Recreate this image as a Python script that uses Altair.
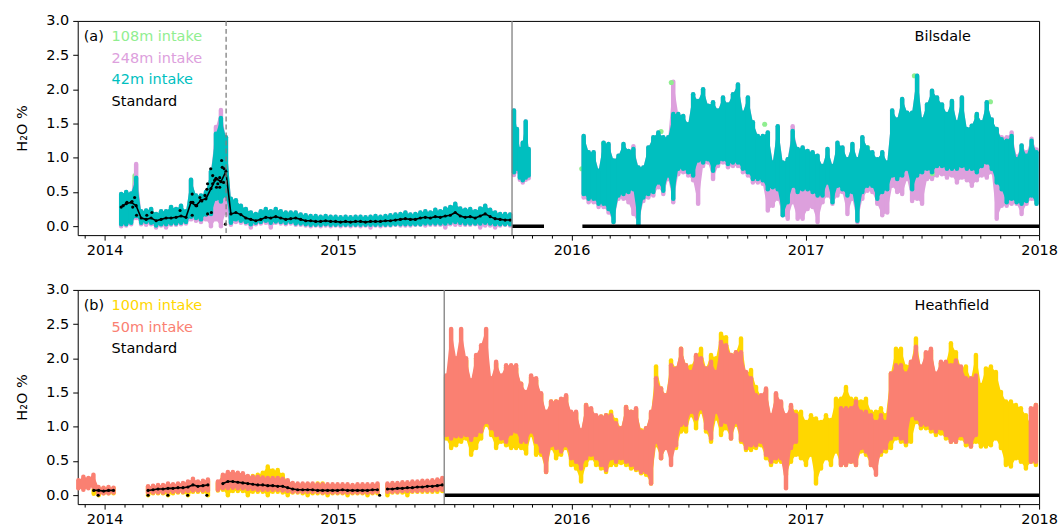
import altair as alt
import pandas as pd

FONT = "DejaVu Sans"
GREEN, PLUM, CYAN = "#90EE90", "#DDA0DD", "#00BFBF"
GOLD, SALMON = "#FFD700", "#FA8072"

# ======================= (a) Bilsdale =======================
# Jan 2014 - Sep 2015, readings every ~8 days (min / max of each window)
bil_early = ("2014-01-27", "2015-09-27")
bil42_early_hi = [0.47, 0.50, 0.48, 0.71, 0.22, 0.23, 0.25, 0.18, 0.22, 0.22, 0.28, 0.25, 0.30, 0.22,
                  0.68, 0.45, 0.45, 0.50, 0.80, 1.35, 1.58, 1.30,
                  0.40, 0.38, 0.30, 0.25, 0.20, 0.18, 0.22, 0.25, 0.22, 0.25, 0.22, 0.20, 0.20, 0.20,
                  0.17, 0.16, 0.15, 0.15, 0.14, 0.15, 0.14, 0.14, 0.13, 0.14, 0.13, 0.14, 0.14, 0.13,
                  0.14, 0.15, 0.14, 0.15, 0.16, 0.17, 0.18, 0.20, 0.17, 0.18, 0.20, 0.22, 0.20, 0.24,
                  0.22, 0.26, 0.28, 0.33, 0.26, 0.24, 0.25, 0.22, 0.26, 0.30, 0.24, 0.20, 0.18, 0.18, 0.17]
bil42_early_lo = [0.03, 0.03, 0.05, 0.15, 0.05, 0.06, 0.05, 0.01, 0.03, 0.03, 0.04, 0.04, 0.05, 0.06,
                  0.14, 0.12, 0.10, 0.17, 0.18, 0.40, 0.36, 0.45,
                  0.05, 0.10, 0.08, 0.06, 0.03, 0.05, 0.06, 0.08, 0.05, 0.07, 0.06, 0.05, 0.06, 0.04,
                  0.04, 0.03, 0.02, 0.02, 0.02, 0.03, 0.02, 0.02, 0.02, 0.02, 0.02, 0.02, 0.02, 0.02,
                  0.02, 0.02, 0.02, 0.02, 0.02, 0.03, 0.03, 0.03, 0.03, 0.03, 0.03, 0.04, 0.04, 0.04,
                  0.04, 0.04, 0.05, 0.06, 0.05, 0.04, 0.04, 0.04, 0.04, 0.05, 0.04, 0.03, 0.03, 0.03, 0.03]
bil248_early_hi = [0.47, 0.50, 0.48, 0.91, 0.22, 0.23, 0.25, 0.18, 0.22, 0.22, 0.28, 0.25, 0.30, 0.22,
                   0.68, 0.45, 0.45, 0.50, 0.80, 1.45, 1.70, 1.30,
                   0.40, 0.38, 0.30, 0.25, 0.20, 0.18, 0.22, 0.25, 0.22, 0.25, 0.22, 0.20, 0.20, 0.20,
                   0.17, 0.16, 0.15, 0.15, 0.14, 0.15, 0.14, 0.14, 0.13, 0.14, 0.13, 0.14, 0.14, 0.13,
                   0.14, 0.15, 0.14, 0.15, 0.16, 0.17, 0.18, 0.20, 0.17, 0.18, 0.20, 0.22, 0.20, 0.24,
                   0.22, 0.26, 0.28, 0.33, 0.26, 0.24, 0.25, 0.22, 0.26, 0.30, 0.24, 0.20, 0.18, 0.18, 0.17]
bil248_early_lo = [0.00, 0.01, 0.03, 0.12, 0.03, 0.02, 0.03, -0.02, 0.01, -0.02, 0.02, 0.02, 0.03, 0.04,
                   0.10, 0.08, 0.06, 0.10, 0.00, 0.10, 0.00, 0.20,
                   0.02, 0.06, 0.05, 0.04, -0.02, 0.03, 0.04, 0.05, -0.02, 0.05, 0.04, 0.03, 0.04, 0.02,
                   0.02, 0.01, 0.00, 0.01, 0.00, 0.01, 0.00, 0.01, 0.00, 0.01, 0.00, 0.01, 0.00, 0.01,
                   -0.02, 0.01, 0.00, 0.01, 0.01, 0.02, 0.01, 0.01, 0.01, 0.02, 0.02, 0.01, 0.02, 0.02,
                   0.02, -0.02, 0.03, 0.02, 0.02, 0.02, 0.02, 0.03, -0.02, 0.01, 0.01, -0.02, 0.01, 0.02, 0.01]
bil_std_early = [0.28, 0.33, 0.35, 0.30, 0.12, 0.10, 0.12, 0.08, 0.10, 0.12, 0.12, 0.13, 0.15, 0.13,
                 0.35, 0.30, 0.38, 0.40, 0.55, 0.70, 0.65, 0.80,
                 0.18, 0.20, 0.17, 0.12, 0.10, 0.08, 0.10, 0.13, 0.12, 0.14, 0.12, 0.10, 0.11, 0.12,
                 0.10, 0.08, 0.08, 0.07, 0.07, 0.08, 0.07, 0.07, 0.06, 0.07, 0.06, 0.07, 0.07, 0.06,
                 0.07, 0.07, 0.07, 0.08, 0.08, 0.09, 0.10, 0.11, 0.10, 0.10, 0.12, 0.13, 0.12, 0.14,
                 0.13, 0.15, 0.16, 0.20, 0.15, 0.13, 0.14, 0.12, 0.15, 0.18, 0.14, 0.11, 0.10, 0.09, 0.09]
# scattered standard readings during spring / summer 2014
bil_std_extra_dates = ["2014-01-30", "2014-02-05", "2014-02-13", "2014-02-14", "2014-02-17", "2014-02-20",
                       "2014-03-08", "2014-03-16", "2014-04-29", "2014-05-18", "2014-05-19", "2014-05-25",
                       "2014-05-30", "2014-06-02", "2014-06-07", "2014-06-10", "2014-06-11", "2014-06-16",
                       "2014-06-17", "2014-06-19", "2014-06-22", "2014-06-25", "2014-06-27", "2014-06-30",
                       "2014-07-03", "2014-07-04", "2014-07-06", "2014-07-07", "2014-07-09", "2014-06-11",
                       "2014-05-18", "2014-06-25", "2014-06-30", "2014-06-19"]
bil_std_extra = [0.30, 0.35, 0.36, 0.28, 0.42, 0.16, 0.16, 0.20, 0.23, 0.47, 0.35, 0.30,
                 0.42, 0.37, 0.45, 0.54, 0.62, 0.84, 0.20, 0.74, 0.67, 0.69, 0.62, 0.71,
                 0.96, 0.86, 0.64, 0.84, 0.03, 0.18, 0.16, 0.57, 0.57, 0.62]
bil108_early_dates = ["2014-02-17", "2014-07-06"]
bil108_early_lo = [0.15, 0.38]
bil108_early_hi = [0.74, 1.20]

# October 2015
bil_oct = ("2015-10-03", "2015-10-26")
bil42_oct_hi = [1.69, 1.42, 1.13, 1.22, 1.53, 1.13]
bil42_oct_lo = [0.79, 0.84, 0.71, 0.67, 0.71, 0.74]
bil248_oct_hi = [1.69, 1.42, 1.13, 1.22, 1.53, 1.13]
bil248_oct_lo = [0.75, 0.80, 0.68, 0.64, 0.68, 0.70]

# 2016 - 2017, readings every ~8 days
bil_late = ("2016-01-20", "2017-12-28")
bil42_late_hi = [1.32, 1.08, 1.08, 0.81, 1.22, 1.20, 0.96, 1.03, 1.20, 1.10, 1.13, 0.86, 0.86, 1.15,
                 1.30, 1.37, 1.30, 1.30, 1.64, 1.64, 1.61, 1.49, 1.93, 1.83, 2.00, 1.76, 1.81, 1.69,
                 1.88, 1.78, 1.93, 2.07, 1.66, 1.88, 1.52, 1.32, 1.32, 1.37, 0.93, 1.46, 0.93, 0.98,
                 1.39, 1.13, 1.15, 1.10, 1.08,
                 1.03, 0.88, 1.13, 0.88, 1.22, 1.15, 0.98, 1.20, 0.98, 1.30, 1.15, 1.08, 0.98, 1.08,
                 0.93, 1.69, 1.56, 1.86, 1.66, 1.66, 2.20, 1.56, 1.78, 1.98, 1.88, 1.78, 1.64, 1.83,
                 1.52, 1.88, 1.42, 1.47, 1.64, 1.52, 1.81, 1.56, 1.42, 1.27, 1.25, 1.32, 0.98, 1.18,
                 1.03, 1.25, 1.08]
bil42_late_lo = [0.47, 0.40, 0.40, 0.33, 0.33, 0.25, 0.06, 0.45, 0.47, 0.50, 0.54, 0.03, 0.42, 0.47,
                 0.50, 0.64, 0.52, 0.74, 0.40, 0.84, 0.84, 0.79, 0.74, 0.96, 0.93, 0.98, 0.81, 0.93,
                 0.98, 0.91, 0.93, 0.93, 0.84, 0.79, 0.69, 0.69, 0.67, 0.54, 0.57, 0.54, 0.16, 0.35,
                 0.59, 0.50, 0.54, 0.54, 0.50,
                 0.45, 0.45, 0.64, 0.35, 0.59, 0.54, 0.45, 0.50, 0.08, 0.50, 0.59, 0.59, 0.40, 0.50,
                 0.54, 0.74, 0.69, 0.74, 0.84, 0.54, 0.74, 0.79, 0.84, 0.79, 0.88, 0.88, 0.84, 0.84,
                 0.84, 0.88, 0.84, 0.84, 0.79, 0.88, 0.93, 0.84, 0.64, 0.54, 0.35, 0.40, 0.35, 0.33,
                 0.37, 0.45, 0.33]
bil248_late_hi = [1.32, 1.08, 1.08, 0.81, 1.22, 1.20, 0.96, 1.03, 1.20, 1.10, 1.17, 0.86, 0.86, 1.15,
                  1.30, 1.37, 1.30, 1.30, 2.11, 1.64, 1.61, 1.49, 1.93, 1.83, 2.00, 1.76, 1.81, 1.69,
                  1.88, 1.78, 1.93, 2.07, 1.66, 1.88, 1.52, 1.32, 1.32, 1.37, 0.93, 1.46, 0.93, 0.98,
                  1.46, 1.13, 1.15, 1.10, 1.08,
                  1.03, 0.88, 1.13, 0.88, 1.22, 1.15, 0.98, 1.20, 0.98, 1.30, 1.15, 1.08, 0.98, 1.08,
                  0.93, 1.69, 1.56, 1.86, 1.66, 1.66, 2.20, 1.56, 1.78, 1.98, 1.88, 1.78, 1.64, 1.83,
                  1.52, 1.88, 1.42, 1.47, 1.64, 1.52, 1.81, 1.56, 1.42, 1.30, 1.30, 1.37, 1.02, 1.18,
                  1.08, 1.28, 1.12]
bil248_late_lo = [0.42, 0.35, 0.35, 0.28, 0.28, 0.20, 0.06, 0.40, 0.40, 0.35, 0.18, 0.03, 0.37, 0.42,
                  0.45, 0.57, 0.47, 0.69, 0.35, 0.76, 0.79, 0.74, 0.67, 0.33, 0.88, 0.93, 0.69, 0.88,
                  0.93, 0.86, 0.88, 0.88, 0.79, 0.74, 0.64, 0.64, 0.62, 0.23, 0.30, 0.40, 0.16, 0.11,
                  0.35, 0.11, 0.11, 0.25, 0.28,
                  0.06, 0.35, 0.45, 0.33, 0.45, 0.50, 0.18, 0.40, 0.06, 0.40, 0.52, 0.50, 0.33, 0.16,
                  0.20, 0.59, 0.50, 0.47, 0.69, 0.37, 0.40, 0.33, 0.69, 0.69, 0.74, 0.76, 0.71, 0.74,
                  0.64, 0.71, 0.67, 0.59, 0.67, 0.74, 0.71, 0.79, 0.11, 0.30, 0.30, 0.33, 0.33, 0.18,
                  0.33, 0.40, 0.33]
bil108_late_dates = ["2016-01-17", "2016-02-20", "2016-03-07", "2016-05-20", "2016-06-05", "2016-10-06",
                     "2016-10-29", "2017-04-08", "2017-06-20", "2017-07-18", "2017-09-25", "2017-10-17"]
bil108_late = [0.84, 1.21, 0.31, 1.385, 2.10, 1.54, 1.49, 1.15, 2.20, 0.77, 1.60, 1.82]

# standard reads zero while it is not run
bil_std_zero_start = ["2015-09-30", "2016-01-18"]
bil_std_zero_end = ["2015-11-19", "2018-01-01"]
bil_breaks_dashed = ["2014-07-10"]
bil_breaks_solid = ["2015-09-30"]

# ======================= (b) Heathfield =======================
hea_first = ("2013-11-21", "2014-01-15")
hea50_first_hi = [0.22, 0.27, 0.25, 0.30, 0.12, 0.11, 0.12, 0.11]
hea50_first_lo = [0.10, 0.08, 0.10, 0.12, 0.02, 0.03, 0.03, 0.04]
hea_first_b = ("2013-12-15", "2014-01-15")
hea100_first_hi = [0.08, 0.10, 0.10, 0.10, 0.10]
hea100_first_lo = [0.02, 0.00, 0.03, 0.03, 0.03]
hea_std_first = [0.07, 0.07, 0.06, 0.07, 0.07]

hea_mid = ("2014-03-10", "2015-06-13")
hea50_mid_hi = [0.13, 0.14, 0.15, 0.15, 0.17, 0.16, 0.17, 0.18, 0.20, 0.24,
                0.20, 0.21, 0.23, None, 0.20, 0.30, 0.34, 0.34, 0.33, 0.32,
                0.28, 0.27, 0.27, 0.26, 0.25, 0.25, 0.25, 0.24, 0.22, 0.18,
                0.17, 0.17, 0.17, 0.17, 0.16, 0.16, 0.16, 0.16, 0.16, 0.16,
                0.16, 0.15, 0.16, 0.16, 0.16, 0.16, 0.17, None, 0.17, 0.18,
                0.18, 0.19, 0.19, 0.20, 0.20, 0.21, 0.21, 0.22, 0.23, 0.25]
hea50_mid_lo = [0.04, 0.04, 0.04, 0.04, 0.05, 0.05, 0.05, 0.05, 0.06, 0.07,
                0.07, 0.07, 0.07, None, 0.08, 0.10, 0.10, 0.11, 0.10, 0.10,
                0.09, 0.09, 0.08, 0.08, 0.08, 0.08, 0.08, 0.07, 0.06, 0.05,
                0.05, 0.05, 0.05, 0.05, 0.05, 0.04, 0.04, 0.04, 0.04, 0.04,
                0.04, 0.04, 0.04, 0.04, 0.04, 0.04, 0.05, None, 0.05, 0.05,
                0.05, 0.06, 0.06, 0.06, 0.06, 0.07, 0.07, 0.07, 0.08, 0.08]
hea100_mid_hi = [0.12, 0.12, 0.13, 0.13, 0.15, 0.14, 0.15, 0.16, 0.18, 0.20,
                 0.18, 0.19, 0.21, None, 0.18, 0.28, 0.30, 0.30, 0.30, 0.28,
                 0.27, 0.28, 0.30, 0.33, 0.42, 0.36, 0.37, 0.30, 0.20, 0.16,
                 0.15, 0.15, 0.16, 0.15, 0.17, 0.17, 0.14, 0.14, 0.14, 0.14,
                 0.14, 0.13, 0.14, 0.14, 0.14, 0.14, 0.15, None, 0.15, 0.16,
                 0.16, 0.17, 0.17, 0.18, 0.18, 0.19, 0.19, 0.20, 0.21, 0.22]
hea100_mid_lo = [0.00, 0.03, 0.03, 0.03, 0.00, 0.03, 0.04, 0.04, 0.00, 0.05,
                 0.05, 0.05, 0.00, None, 0.07, 0.08, 0.00, 0.06, 0.06, 0.06,
                 0.00, 0.05, 0.05, 0.05, 0.00, 0.05, 0.05, 0.04, 0.00, 0.04,
                 0.04, 0.03, 0.00, 0.03, 0.03, 0.03, 0.00, 0.03, 0.03, 0.03,
                 0.00, 0.03, 0.03, 0.03, 0.00, 0.03, 0.03, None, 0.00, 0.04,
                 0.04, 0.04, 0.00, 0.05, 0.05, 0.05, 0.05, 0.05, 0.05, 0.06]
hea_std_mid = [0.07, 0.08, 0.09, 0.09, 0.10, 0.10, 0.11, 0.11, 0.12, 0.15,
               0.13, 0.14, 0.15, None, None, 0.17, 0.20, 0.20, 0.19, 0.18,
               0.17, 0.16, 0.15, 0.15, 0.14, 0.14, 0.13, 0.13, 0.11, 0.09,
               0.08, 0.08, 0.08, 0.08, 0.07, 0.07, 0.07, 0.07, 0.07, 0.08,
               0.07, 0.07, 0.07, 0.07, 0.07, 0.08, 0.08, None, 0.09, 0.09,
               0.10, 0.10, 0.11, 0.11, 0.12, 0.12, 0.13, 0.13, 0.14, 0.15]
hea_std_zero_dots = ["2013-12-22", "2014-03-10", "2014-04-10", "2014-05-11", "2014-06-10", "2015-03-07"]

hea_late = ("2015-06-19", "2017-12-27")
hea50_late_hi = [1.75, 2.43, 2.00, 2.43, 2.00, 1.68, 2.05, 2.19, 2.43, 1.71, 1.95, 1.75, 1.90, 1.90,
                 1.90, 1.63, 1.51, 1.75, 1.71, 1.49, 1.22, 1.37, 1.37, 1.41, 1.46, 1.22, 1.22, 0.95,
                 1.32, 1.27, 1.17, 1.15, 1.17, 1.17, 1.05, 0.98, 1.29, 1.22, 1.27, 0.93, 0.98, 1.22,
                 1.71, 1.56, 1.46, 1.90, 1.85, 2.14, 1.90, 1.80, 2.05, 2.00, 1.85, 1.95, 1.80, 2.24,
                 2.19, 2.05, 2.09,
                 2.09, 1.80, 1.71, 1.46, 1.46, 1.56, 1.17, 1.49, 1.37, 1.17, 1.32, 1.17,
                 None, None, None, None, None, None, None, None,
                 1.27, 1.27, 1.27, 1.37, 1.22, 1.22, 1.17, 1.07, 1.17, 1.07, 1.78, 1.90, 1.90, 1.78,
                 1.95, 2.17, 1.88, 2.09, 2.14, 1.78, 1.95, 1.95, 1.90, 1.97, 1.88, 1.71, 1.71, 1.75,
                 None, None, None, None, None, None, None, None, None, None,
                 1.27, 1.32]
hea50_late_lo = [0.88, 0.83, 0.86, 0.86, 0.88, 0.81, 0.88, 0.93, 1.07, 0.98, 0.88, 0.83, 0.78, 0.90,
                 0.93, 0.78, 0.78, 0.93, 0.78, 0.64, 0.34, 0.73, 0.69, 0.64, 0.73, 0.54, 0.49, 0.39,
                 0.54, 0.59, 0.54, 0.44, 0.37, 0.54, 0.49, 0.54, 0.49, 0.44, 0.39, 0.34, 0.34, 0.17,
                 0.78, 0.54, 0.69, 0.44, 0.73, 1.03, 1.03, 1.22, 1.12, 1.27, 0.98, 0.83, 1.22, 1.03,
                 1.07, 0.83, 1.07,
                 0.81, 0.69, 0.73, 0.73, 0.78, 0.59, 0.49, 0.54, 0.54, 0.10, 0.69, 0.78,
                 None, None, None, None, None, None, None, None,
                 0.44, 0.44, 0.49, 0.44, 0.69, 0.64, 0.44, 0.30, 0.64, 0.69, 0.83, 0.88, 0.83, 0.78,
                 1.17, 1.12, 1.03, 1.03, 0.98, 0.93, 0.98, 0.88, 0.78, 0.78, 0.88, 0.78, 0.71, 0.88,
                 None, None, None, None, None, None, None, None, None, None,
                 0.49, 0.49]
hea100_late_hi = [1.72, 2.00, 1.97, 2.00, 1.97, 1.65, 2.00, 1.80, 1.90, 1.68, 1.92, 1.73, 1.87, 1.87,
                  1.85, 1.63, 1.49, 1.72, 1.68, 1.47, 1.20, 1.37, 1.37, 1.40, 1.44, 1.20, 1.20, 0.93,
                  1.32, 1.25, 1.15, 1.15, 1.17, 1.22, 1.10, 0.98, 1.29, 1.22, 1.25, 0.95, 0.98, 1.20,
                  1.88, 1.56, 1.46, 1.97, 1.85, 2.14, 1.90, 1.88, 2.03, 2.14, 1.85, 2.05, 2.00, 2.36,
                  2.31, 2.05, 2.09,
                  2.29, 1.78, 1.83, 1.58, 1.44, 1.54, 1.15, 1.47, 1.35, 1.15, 1.30, 1.22,
                  1.22, 1.07, 1.17, 1.12, 1.07, 1.17, 1.10, 1.41,
                  1.41, 1.58, 1.41, 1.41, 1.37, 1.41, 1.22, 1.22, 1.27, 1.17, 1.78, 2.14, 2.14, 1.88,
                  1.93, 2.29, 1.86, 2.07, 2.12, 1.76, 1.93, 1.93, 2.22, 2.09, 1.86, 1.88, 1.69, 2.05,
                  1.61, 1.85, 1.88, 1.80, 1.51, 1.37, 1.37, 1.32, 1.27, 1.17,
                  1.03, 1.32]
hea100_late_lo = [0.83, 0.69, 0.73, 0.78, 0.83, 0.59, 0.69, 0.83, 1.03, 0.88, 0.69, 0.78, 0.73, 0.69,
                  0.69, 0.69, 0.61, 0.88, 0.59, 0.59, 0.34, 0.69, 0.54, 0.59, 0.69, 0.44, 0.39, 0.20,
                  0.44, 0.54, 0.44, 0.39, 0.34, 0.44, 0.44, 0.47, 0.44, 0.39, 0.37, 0.32, 0.30, 0.17,
                  0.73, 0.54, 0.69, 0.69, 0.69, 0.93, 0.93, 1.17, 0.98, 1.22, 0.93, 0.78, 1.12, 0.88,
                  0.98, 0.83, 1.03,
                  0.78, 0.66, 0.66, 0.69, 0.73, 0.54, 0.44, 0.49, 0.49, 0.30, 0.49, 0.59,
                  0.54, 0.44, 0.59, 0.17, 0.39, 0.54, 0.44, 0.64,
                  0.44, 0.44, 0.49, 0.44, 0.64, 0.59, 0.44, 0.44, 0.59, 0.64, 0.69, 0.83, 0.78, 0.73,
                  0.78, 1.07, 0.98, 0.98, 0.93, 0.88, 0.90, 0.83, 0.78, 0.78, 0.83, 0.73, 0.71, 0.78,
                  0.71, 0.71, 0.73, 0.83, 0.69, 0.44, 0.42, 0.54, 0.49, 0.39,
                  0.49, 0.44]
hea_std_zero_start = ["2015-06-16"]
hea_std_zero_end = ["2018-01-01"]
hea_breaks_solid = ["2015-06-16"]

Y_TICKS = [0.0, 0.5, 1.0, 1.5, 2.0, 2.5, 3.0]
PLOT_W, PLOT_H = 965, 215


def band(span, lo, hi):
    df = pd.DataFrame({"date": pd.date_range(span[0], span[1], periods=len(lo)), "lo": lo, "hi": hi})
    df["seg"] = df["lo"].isna().cumsum()  # a missing reading splits the band
    return df.dropna()


def series(span, vals):
    df = pd.DataFrame({"date": pd.date_range(span[0], span[1], periods=len(vals)), "v": vals})
    df["seg"] = df["v"].isna().cumsum()
    return df.dropna()


month_ticks = [alt.DateTime(year=y, month=m, date=1)
               for y in range(2013, 2019) for m in range(1, 13)
               if (2013, 12) <= (y, m) <= (2018, 1)]
x_scale = alt.Scale(domain=[alt.DateTime(year=2013, month=11, date=20),
                            alt.DateTime(year=2018, month=1, date=1)])
y_scale = alt.Scale(domain=[-0.13, 3.0], nice=False, zero=False)
x_axis = alt.Axis(values=month_ticks, title=None, grid=False, domain=False,
                  labelExpr="month(datum.value) == 0 ? timeFormat(datum.value, '%Y') : ''",
                  tickSize={"condition": {"test": "month(datum.value) == 0", "value": 5}, "value": 3},
                  labelOverlap=False, labelFlush=False, labelPadding=3)
y_axis = alt.Axis(values=Y_TICKS, format=".1f", title="H₂O %", grid=False, domain=False,
                  tickSize=5, labelPadding=4, titlePadding=16)


def X(field="date:T"):
    return alt.X(field, scale=x_scale, axis=x_axis)


def Y(field):
    return alt.Y(field, scale=y_scale, axis=y_axis)


def rules(df, color, width=4.5):
    return alt.Chart(df).mark_rule(color=color, strokeWidth=width, strokeCap="round").encode(
        x=X(), y=Y("lo:Q"), y2="hi:Q")


def band_layers(df, color):
    # filled envelope between successive readings, plus a rounded stroke for each reading
    area = alt.Chart(df).mark_area(color=color, opacity=1, interpolate="linear").encode(
        x=X(), y=Y("lo:Q"), y2="hi:Q", detail="seg:N")
    return [area, rules(df, color)]


def dots(df, color, size):
    return alt.Chart(df).mark_circle(color=color, size=size, opacity=1).encode(x=X(), y=Y("v:Q"))


def std_trace(df):
    line = alt.Chart(df).mark_line(color="black", strokeWidth=1.6).encode(
        x=X(), y=Y("v:Q"), detail="seg:N")
    return [line, dots(df, "black", 10)]


def zero_line(starts, ends):
    df = pd.DataFrame({"start": pd.to_datetime(starts), "end": pd.to_datetime(ends), "v": 0.0})
    return alt.Chart(df).mark_rule(color="black", strokeWidth=3.5).encode(
        x=X("start:T"), x2="end:T", y=Y("v:Q"))


def vline(dates, dashed=False):
    df = pd.DataFrame({"date": pd.to_datetime(dates)})
    mark = dict(color="#7f7f7f", strokeWidth=1.3)
    if dashed:
        mark["strokeDash"] = [5, 3]
    return alt.Chart(df).mark_rule(**mark).encode(x=X())


def label(text, color, px, py):
    return alt.Chart(pd.DataFrame({"t": [text]})).mark_text(
        align="left", baseline="middle", font=FONT, fontSize=14.5, color=color
    ).encode(x=alt.value(px), y=alt.value(py), text="t:N")


top = alt.layer(
    rules(pd.DataFrame({"date": pd.to_datetime(bil108_early_dates), "lo": bil108_early_lo,
                        "hi": bil108_early_hi}), GREEN),
    *band_layers(band(bil_early, bil248_early_lo, bil248_early_hi), PLUM),
    *band_layers(band(bil_oct, bil248_oct_lo, bil248_oct_hi), PLUM),
    *band_layers(band(bil_late, bil248_late_lo, bil248_late_hi), PLUM),
    dots(pd.DataFrame({"date": pd.to_datetime(bil108_late_dates), "v": bil108_late}), GREEN, 26),
    *band_layers(band(bil_early, bil42_early_lo, bil42_early_hi), CYAN),
    *band_layers(band(bil_oct, bil42_oct_lo, bil42_oct_hi), CYAN),
    *band_layers(band(bil_late, bil42_late_lo, bil42_late_hi), CYAN),
    *std_trace(series(bil_early, bil_std_early)),
    dots(pd.DataFrame({"date": pd.to_datetime(bil_std_extra_dates), "v": bil_std_extra}), "black", 10),
    zero_line(bil_std_zero_start, bil_std_zero_end),
    vline(bil_breaks_dashed, dashed=True),
    vline(bil_breaks_solid),
    label("(a)", "black", 6, 16.5),
    label("108m intake", GREEN, 34, 16.5),
    label("248m intake", PLUM, 34, 38),
    label("42m intake", CYAN, 34, 59.5),
    label("Standard", "black", 34, 81),
    label("Bilsdale", "black", 840, 16.5),
).properties(width=PLOT_W, height=PLOT_H)

bottom = alt.layer(
    *band_layers(band(hea_first_b, hea100_first_lo, hea100_first_hi), GOLD),
    *band_layers(band(hea_mid, hea100_mid_lo, hea100_mid_hi), GOLD),
    *band_layers(band(hea_late, hea100_late_lo, hea100_late_hi), GOLD),
    *band_layers(band(hea_first, hea50_first_lo, hea50_first_hi), SALMON),
    *band_layers(band(hea_mid, hea50_mid_lo, hea50_mid_hi), SALMON),
    *band_layers(band(hea_late, hea50_late_lo, hea50_late_hi), SALMON),
    *std_trace(series(hea_first_b, hea_std_first)),
    *std_trace(series(hea_mid, hea_std_mid)),
    dots(pd.DataFrame({"date": pd.to_datetime(hea_std_zero_dots), "v": 0.0}), "black", 10),
    zero_line(hea_std_zero_start, hea_std_zero_end),
    vline(hea_breaks_solid),
    label("(b)", "black", 6, 16.5),
    label("100m intake", GOLD, 34, 16.5),
    label("50m intake", SALMON, 34, 38),
    label("Standard", "black", 34, 59.5),
    label("Heathfield", "black", 840, 16.5),
).properties(width=PLOT_W, height=PLOT_H)

chart = alt.vconcat(top, bottom, spacing=55, bounds="flush").properties(
    padding={"left": 14, "top": 11, "right": 5, "bottom": 5}
).configure_view(stroke="black", strokeWidth=1).configure_axis(
    labelFont=FONT, labelFontSize=14.5, labelColor="black",
    titleFont=FONT, titleFontSize=14.5, titleFontWeight="normal", titleColor="black",
    tickColor="black", tickWidth=1
)

chart.save("out.html", embed_options={"renderer": "svg", "actions": False})
